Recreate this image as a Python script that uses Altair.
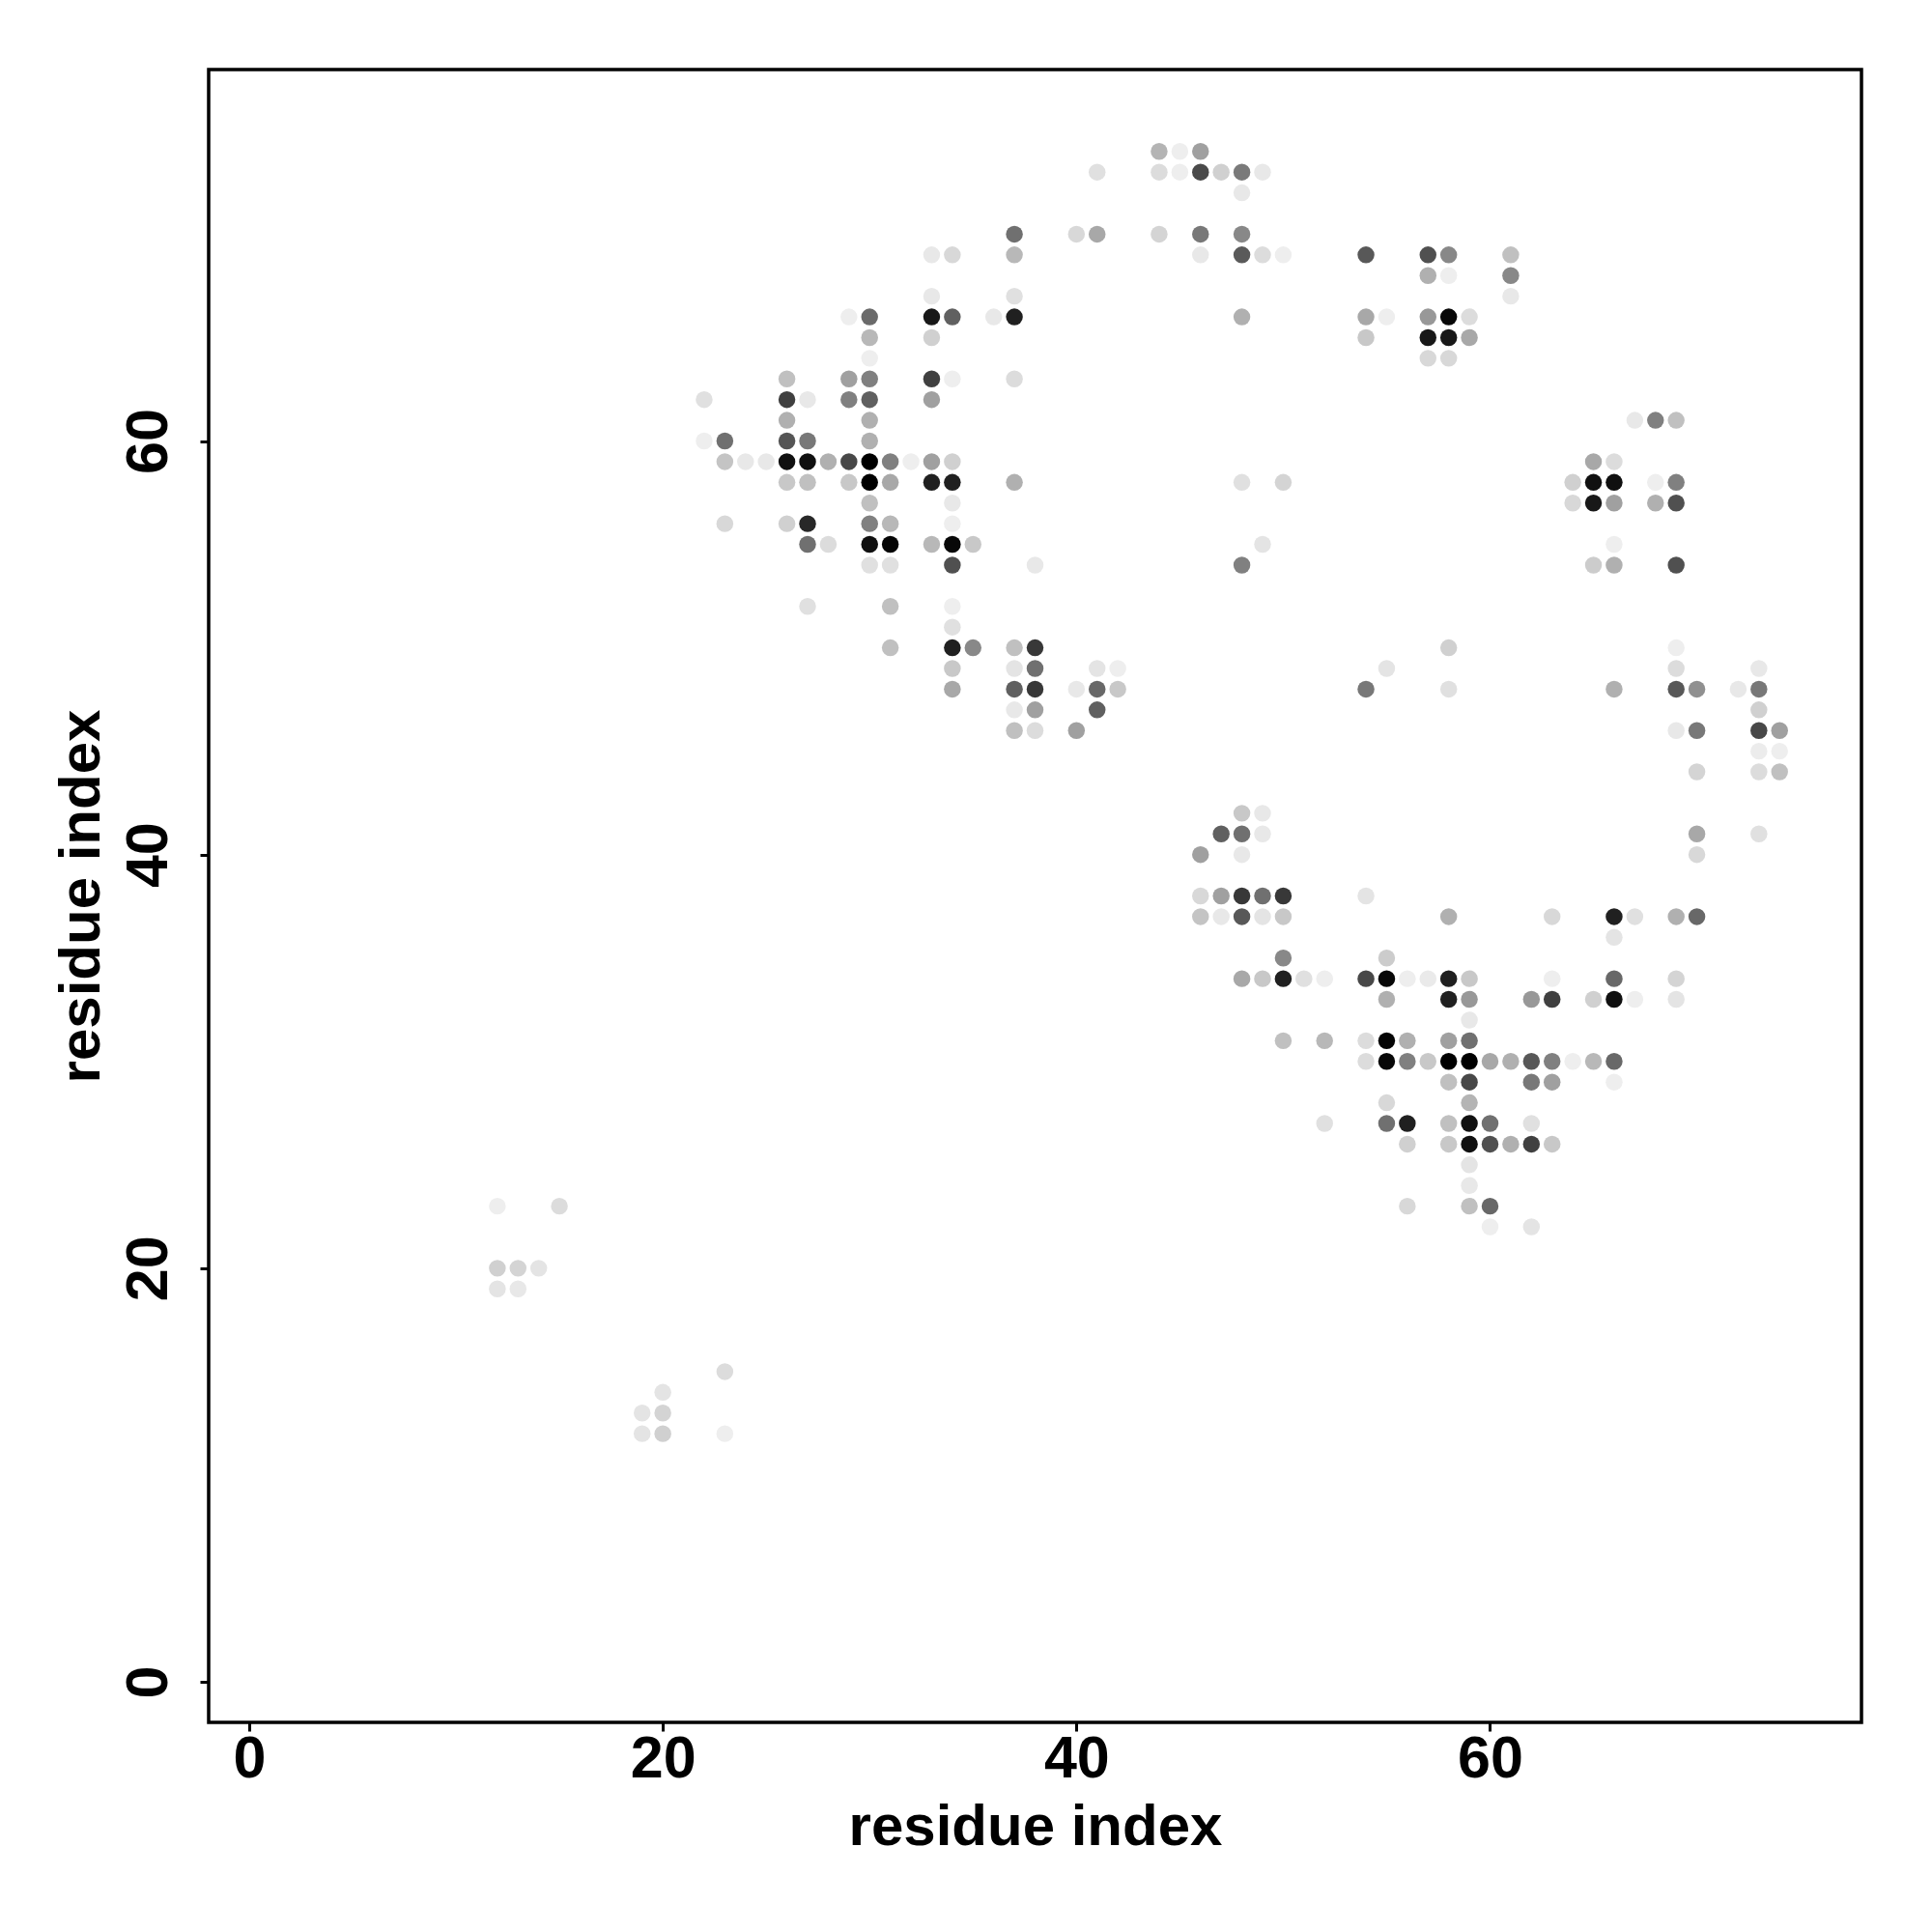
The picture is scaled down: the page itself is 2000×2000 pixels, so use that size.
import altair as alt
import pandas as pd

# residue i (x), residue j (y) and grey level (0 = black, 255 = white) of each contact
contact_i = [
    44, 45, 46,
    41, 44, 45, 46, 47, 48, 49,
    48,
    37, 40, 41, 44, 46, 48,
    33, 34, 37, 46, 48, 49, 50, 54, 57, 58, 61,
    57, 58, 61,
    33, 37, 61,
    29, 30, 33, 34, 36, 37, 48, 54, 55, 57, 58, 59,
    30, 33, 54, 57, 58, 59,
    30, 57, 58,
    26, 29, 30, 33, 34, 37,
    22, 26, 27, 29, 30, 33,
    26, 30, 67, 68, 69,
    22, 23, 26, 27, 30,
    23, 24, 25, 26, 27, 28, 29, 30, 31, 32, 33, 34, 65, 66,
    26, 27, 29, 30, 31, 33, 34, 37, 48, 50, 64, 65, 66, 68, 69,
    30, 34, 64, 65, 66, 68, 69,
    23, 26, 27, 30, 31, 34,
    27, 28, 30, 31, 33, 34, 35, 49, 66,
    30, 31, 34, 38, 48, 65, 66, 69,
    27, 31, 34,
    34,
    31, 34, 35, 37, 38, 58, 69,
    34, 37, 38, 41, 42, 55, 69, 73,
    34, 37, 38, 40, 41, 42, 54, 58, 66, 69, 70, 72, 73,
    37, 38, 41, 73,
    37, 38, 40, 69, 70, 73, 74,
    73, 74,
    70, 73, 74,
    48, 49,
    47, 48, 49, 70, 73,
    46, 48, 70,
    46, 47, 48, 49, 50, 54,
    46, 47, 48, 49, 50, 58, 63, 66, 67, 69, 70,
    66,
    50, 55,
    48, 49, 50, 51, 52, 54, 55, 56, 57, 58, 59, 63, 66, 69,
    55, 58, 59, 62, 63, 65, 66, 67, 69,
    59,
    50, 52, 54, 55, 56, 58, 59,
    54, 55, 56, 57, 58, 59, 60, 61, 62, 63, 64, 65, 66,
    58, 59, 62, 63, 66,
    55, 59,
    52, 55, 56, 58, 59, 60, 62,
    56, 58, 59, 60, 61, 62, 63,
    59,
    59,
    12, 15, 56, 59, 60,
    60, 62,
    12, 13, 14,
    12, 13,
    23,
    20,
    19, 20,
    19, 20, 23,
]

contact_j = [
    74, 74, 74,
    73, 73, 73, 73, 73, 73, 73,
    72,
    70, 70, 70, 70, 70, 70,
    69, 69, 69, 69, 69, 69, 69, 69, 69, 69, 69,
    68, 68, 68,
    67, 67, 67,
    66, 66, 66, 66, 66, 66, 66, 66, 66, 66, 66, 66,
    65, 65, 65, 65, 65, 65,
    64, 64, 64,
    63, 63, 63, 63, 63, 63,
    62, 62, 62, 62, 62, 62,
    61, 61, 61, 61, 61,
    60, 60, 60, 60, 60,
    59, 59, 59, 59, 59, 59, 59, 59, 59, 59, 59, 59, 59, 59,
    58, 58, 58, 58, 58, 58, 58, 58, 58, 58, 58, 58, 58, 58, 58,
    57, 57, 57, 57, 57, 57, 57,
    56, 56, 56, 56, 56, 56,
    55, 55, 55, 55, 55, 55, 55, 55, 55,
    54, 54, 54, 54, 54, 54, 54, 54,
    52, 52, 52,
    51,
    50, 50, 50, 50, 50, 50, 50,
    49, 49, 49, 49, 49, 49, 49, 49,
    48, 48, 48, 48, 48, 48, 48, 48, 48, 48, 48, 48, 48,
    47, 47, 47, 47,
    46, 46, 46, 46, 46, 46, 46,
    45, 45,
    44, 44, 44,
    42, 42,
    41, 41, 41, 41, 41,
    40, 40, 40,
    38, 38, 38, 38, 38, 38,
    37, 37, 37, 37, 37, 37, 37, 37, 37, 37, 37,
    36,
    35, 35,
    34, 34, 34, 34, 34, 34, 34, 34, 34, 34, 34, 34, 34, 34,
    33, 33, 33, 33, 33, 33, 33, 33, 33,
    32,
    31, 31, 31, 31, 31, 31, 31,
    30, 30, 30, 30, 30, 30, 30, 30, 30, 30, 30, 30, 30,
    29, 29, 29, 29, 29,
    28, 28,
    27, 27, 27, 27, 27, 27, 27,
    26, 26, 26, 26, 26, 26, 26,
    25,
    24,
    23, 23, 23, 23, 23,
    22, 22,
    20, 20, 20,
    19, 19,
    15,
    14,
    13, 13,
    12, 12, 12,
]

shade = [
    0xb4, 0xee, 0xa0,
    0xe0, 0xdc, 0xee, 0x4a, 0xd0, 0x7a, 0xe8,
    0xe8,
    0x70, 0xd8, 0xa8, 0xd4, 0x78, 0x88,
    0xe8, 0xd8, 0xb8, 0xe8, 0x5a, 0xdc, 0xee, 0x58, 0x50, 0x88, 0xc0,
    0xb0, 0xee, 0x88,
    0xe8, 0xe0, 0xe8,
    0xee, 0x6a, 0x18, 0x60, 0xe8, 0x20, 0xb0, 0xa8, 0xee, 0x98, 0x08, 0xdc,
    0xb8, 0xd0, 0xc8, 0x18, 0x18, 0xa8,
    0xee, 0xd8, 0xd8,
    0xc0, 0xa0, 0x80, 0x40, 0xee, 0xdc,
    0xe0, 0x40, 0xe8, 0x80, 0x60, 0xa0,
    0xb0, 0xb0, 0xe8, 0x80, 0xc0,
    0xee, 0x70, 0x55, 0x78, 0xb0,
    0xc4, 0xe8, 0xe8, 0x10, 0x10, 0xb0, 0x48, 0x00, 0x80, 0xee, 0xa0, 0xd0, 0xa8, 0xdc,
    0xc8, 0xc0, 0xc8, 0x00, 0xa8, 0x20, 0x20, 0xb0, 0xe0, 0xd4, 0xd0, 0x10, 0x10, 0xee, 0x80,
    0xc0, 0xe8, 0xd8, 0x18, 0xa0, 0xb0, 0x50,
    0xd8, 0xd0, 0x28, 0x80, 0xb8, 0xee,
    0x70, 0xdc, 0x10, 0x05, 0xb8, 0x08, 0xc8, 0xe4, 0xee,
    0xe0, 0xe0, 0x50, 0xe8, 0x80, 0xcc, 0xb0, 0x50,
    0xe0, 0xc0, 0xee,
    0xe0,
    0xc0, 0x20, 0x88, 0xc0, 0x38, 0xd0, 0xee,
    0xc8, 0xe4, 0x70, 0xe4, 0xee, 0xe4, 0xdc, 0xe8,
    0xa8, 0x60, 0x38, 0xe8, 0x68, 0xc8, 0x78, 0xe0, 0xb0, 0x58, 0x90, 0xe8, 0x78,
    0xe8, 0xa0, 0x60, 0xd0,
    0xc0, 0xdc, 0xa0, 0xe8, 0x78, 0x48, 0xa0,
    0xec, 0xee,
    0xd4, 0xdc, 0xc0,
    0xc8, 0xe8,
    0x60, 0x70, 0xe8, 0xa8, 0xe0,
    0xa0, 0xe8, 0xd8,
    0xd8, 0xa0, 0x38, 0x70, 0x38, 0xe4,
    0xc4, 0xe8, 0x58, 0xe4, 0xc8, 0xb0, 0xd8, 0x20, 0xe0, 0xb0, 0x68,
    0xe4,
    0x88, 0xcc,
    0xa8, 0xc8, 0x20, 0xe0, 0xee, 0x48, 0x08, 0xee, 0xea, 0x20, 0xc8, 0xee, 0x68, 0xd4,
    0xb0, 0x20, 0x98, 0x98, 0x40, 0xd0, 0x10, 0xee, 0xe4,
    0xe8,
    0xc0, 0xb8, 0xdc, 0x05, 0xb0, 0xa0, 0x70,
    0xdc, 0x08, 0x80, 0xc8, 0x00, 0x00, 0xa8, 0xb0, 0x58, 0x80, 0xee, 0xb8, 0x68,
    0xc0, 0x48, 0x78, 0xa0, 0xee,
    0xd8, 0xb4,
    0xe0, 0x70, 0x20, 0xc0, 0x10, 0x70, 0xe0,
    0xd0, 0xc8, 0x10, 0x50, 0xb0, 0x40, 0xc8,
    0xe4,
    0xe8,
    0xee, 0xdc, 0xd8, 0xc0, 0x68,
    0xee, 0xe4,
    0xd0, 0xd4, 0xe4,
    0xe4, 0xe8,
    0xdc,
    0xe4,
    0xe4, 0xd4,
    0xe4, 0xd0, 0xee,
]

x_ticks = [0, 20, 40, 60]
y_ticks = [0, 20, 40, 60]

assert len(contact_i) == len(contact_j) == len(shade)

df = pd.DataFrame({"i": contact_i, "j": contact_j, "shade": shade})

FONT = "Liberation Sans"
W = 1711
H = 1711

chart = (
    alt.Chart(df)
    .mark_circle(size=305, opacity=1, strokeWidth=0)
    .encode(
        x=alt.X(
            "i:Q",
            scale=alt.Scale(domain=[-1.96, 77.96], nice=False, zero=False),
            axis=alt.Axis(
                values=x_ticks,
                title="residue index",
                grid=False,
                domain=False,
                tickSize=9,
                tickWidth=3,
                tickColor="black",
                labelFont=FONT,
                labelFontWeight="bold",
                labelFontSize=61,
                labelColor="black",
                labelPadding=47,
                labelBaseline="alphabetic",
                labelFlush=False,
                labelOverlap=False,
                titleFont=FONT,
                titleFontWeight="bold",
                titleFontSize=60,
                titleColor="black",
                titleBaseline="alphabetic",
                titleY=126,
                titleX=W / 2,
                titleAlign="center",
            ),
        ),
        y=alt.Y(
            "j:Q",
            scale=alt.Scale(domain=[-1.96, 77.96], nice=False, zero=False),
            axis=alt.Axis(
                values=y_ticks,
                title="residue index",
                grid=False,
                domain=False,
                tickSize=9,
                tickWidth=3,
                tickColor="black",
                labelFont=FONT,
                labelFontWeight="bold",
                labelFontSize=61,
                labelColor="black",
                labelAngle=270,
                labelAlign="center",
                labelBaseline="alphabetic",
                labelPadding=35,
                labelFlush=False,
                labelOverlap=False,
                titleFont=FONT,
                titleFontWeight="bold",
                titleFontSize=60,
                titleColor="black",
                titleAngle=270,
                titleAlign="center",
                titleBaseline="alphabetic",
                titleX=-114,
                titleY=H / 2,
            ),
        ),
        color=alt.Color(
            "shade:Q",
            scale=alt.Scale(domain=[0, 255], range=["#000000", "#ffffff"], interpolate="rgb"),
            legend=None,
        ),
    )
    .properties(
        width=W,
        height=H,
        autosize=alt.AutoSizeParams(type="none"),
        padding={"left": 208, "top": 64, "right": 65, "bottom": 209},
        background="white",
    )
    .configure_view(stroke="black", strokeWidth=3.5)
)

chart.save("out.html", embed_options={"renderer": "svg", "actions": False})
